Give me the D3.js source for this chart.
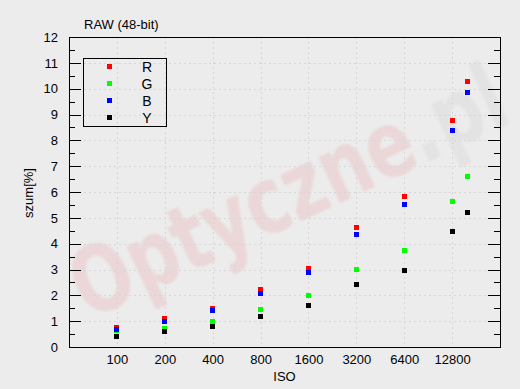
<!DOCTYPE html>
<html>
<head>
<meta charset="utf-8">
<script src="https://cdn.jsdelivr.net/npm/d3@7"></script>
<style>
  body { margin: 0; background: #ececec; }
  svg { display: block; font-family: "Liberation Sans", Arial, sans-serif; }
</style>
</head>
<body>
<svg id="chart"></svg>
<script>
// ISO categories shown on the axis, plus the points actually measured
const isoLabels = ["100", "200", "400", "800", "1600", "3200", "6400", "12800"];
const isoValues = [100, 200, 400, 800, 1600, 3200, 6400, 12800, 16000];

// noise [%] per channel
const seriesR = [0.75, 1.12, 1.50, 2.23, 3.05, 4.64, 5.84, 8.78, 10.29];
const seriesG = [0.62, 0.73, 1.00, 1.46, 2.01, 3.01, 3.75, 5.64, 6.61];
const seriesB = [0.69, 0.99, 1.40, 2.09, 2.87, 4.37, 5.53, 8.39, 9.86];
const seriesY = [0.42, 0.61, 0.81, 1.20, 1.62, 2.43, 2.97, 4.48, 5.22];

const seriesNames = ["R", "G", "B", "Y"];
const seriesColors = ["#ff0000", "#00ff00", "#0000ff", "#000000"];
const seriesData = [seriesR, seriesG, seriesB, seriesY];

const yTicks = d3.range(0, 13, 1);
const yMinor = d3.range(0.5, 12, 1);

const width = 520;
const height = 389;
const margin = { top: 37, right: 20, bottom: 42, left: 69 };

const svg = d3.select("#chart").attr("width", width).attr("height", height);

svg.append("rect").attr("width", width).attr("height", height).attr("fill", "#ececec");

// x is log2 of ISO/100, one slot of padding on the left
const x = d3.scaleLinear().domain([-1, 8]).range([margin.left, width - margin.right]);
const y = d3.scaleLinear().domain([0, 12]).range([height - margin.bottom, margin.top]);
const xPos = (iso) => x(Math.log2(iso / 100));

// watermark
const defs = svg.append("defs");
defs.append("filter").attr("id", "soft")
  .append("feGaussianBlur").attr("stdDeviation", 1.2);
const wm = svg.append("g").attr("transform", "translate(288,192) rotate(-25)");
wm.append("text")
  .attr("text-anchor", "middle")
  .attr("dy", "0.35em")
  .attr("font-family", "DejaVu Sans, sans-serif")
  .attr("font-weight", "bold")
  .attr("font-size", 92)
  .attr("textLength", 470)
  .attr("lengthAdjust", "spacingAndGlyphs")
  .attr("fill", "#ebd7d7")
  .attr("filter", "url(#soft)")
  .html('Optyczne<tspan fill="#e3e3e3">.pl</tspan>');

// grid
const grid = svg.append("g")
  .attr("stroke", "#d6d6d6")
  .attr("stroke-dasharray", "2,3")
  .attr("shape-rendering", "crispEdges");
grid.selectAll("line.v")
  .data(d3.range(isoLabels.length))
  .join("line")
  .attr("class", "v")
  .attr("x1", (d) => Math.round(x(d)) + 0.5)
  .attr("x2", (d) => Math.round(x(d)) + 0.5)
  .attr("y1", y(12))
  .attr("y2", y(0));
grid.selectAll("line.h")
  .data(yTicks.slice(1, -1))
  .join("line")
  .attr("class", "h")
  .attr("y1", (d) => Math.round(y(d)) + 0.5)
  .attr("y2", (d) => Math.round(y(d)) + 0.5)
  .attr("x1", x(-1))
  .attr("x2", x(8));

// axes
const styleAxis = (g) => {
  g.select(".domain").remove();
  g.selectAll("line").attr("stroke", "#000").attr("shape-rendering", "crispEdges");
  g.selectAll("text").attr("fill", "#000").attr("font-size", 13);
};

svg.append("g")
  .attr("transform", `translate(${x(-1)},0)`)
  .call(d3.axisLeft(y).tickValues(yTicks).tickSize(-12).tickPadding(11))
  .call(styleAxis);
svg.append("g")
  .attr("transform", `translate(${x(-1)},0)`)
  .call(d3.axisLeft(y).tickValues(yMinor).tickSize(-6).tickFormat(""))
  .call(styleAxis);
svg.append("g")
  .attr("transform", `translate(${x(8)},0)`)
  .call(d3.axisRight(y).tickValues(yTicks).tickSize(-12).tickFormat(""))
  .call(styleAxis);
svg.append("g")
  .attr("transform", `translate(${x(8)},0)`)
  .call(d3.axisRight(y).tickValues(yMinor).tickSize(-6).tickFormat(""))
  .call(styleAxis);
svg.append("g")
  .attr("transform", `translate(0,${y(0)})`)
  .call(d3.axisBottom(x).tickValues(d3.range(isoLabels.length)).tickSize(0).tickPadding(8)
    .tickFormat((i) => isoLabels[i]))
  .call(styleAxis);

// frame
svg.append("rect")
  .attr("x", x(-1))
  .attr("y", y(12))
  .attr("width", x(8) - x(-1))
  .attr("height", y(0) - y(12))
  .attr("fill", "none")
  .attr("stroke", "#000")
  .attr("shape-rendering", "crispEdges");

// points
const ms = 5;
seriesData.forEach((vals, k) => {
  svg.append("g")
    .attr("fill", seriesColors[k])
    .selectAll("rect")
    .data(vals)
    .join("rect")
    .attr("x", (d, i) => Math.round(xPos(isoValues[i]) - ms / 2))
    .attr("y", (d) => Math.round(y(d) - ms / 2))
    .attr("width", ms)
    .attr("height", ms);
});

// legend
const legend = svg.append("g");
legend.append("rect")
  .attr("x", 83.5).attr("y", 58.5).attr("width", 83).attr("height", 68)
  .attr("fill", "none").attr("stroke", "#000");
seriesNames.forEach((name, k) => {
  const cy = 66.5 + k * 17;
  legend.append("rect")
    .attr("x", 107).attr("y", Math.round(cy - ms / 2)).attr("width", ms).attr("height", ms)
    .attr("fill", seriesColors[k]);
  legend.append("text")
    .attr("x", 147).attr("y", cy).attr("dy", "0.36em")
    .attr("text-anchor", "middle").attr("font-size", 14)
    .text(name);
});

// titles
svg.append("text").attr("x", 84).attr("y", 29).attr("font-size", 13).text("RAW (48-bit)");
svg.append("text")
  .attr("x", (x(-1) + x(8)) / 2).attr("y", 381)
  .attr("text-anchor", "middle").attr("font-size", 13).text("ISO");
svg.append("text")
  .attr("transform", "translate(33,193) rotate(-90)")
  .attr("text-anchor", "middle").attr("font-size", 13).text("szum[%]");
</script>
</body>
</html>
